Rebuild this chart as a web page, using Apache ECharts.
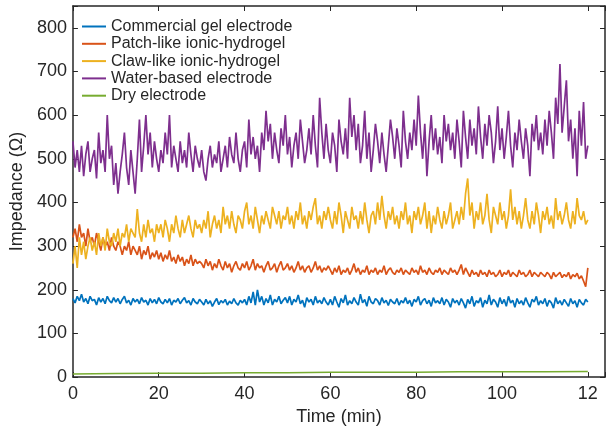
<!DOCTYPE html>
<html>
<head>
<meta charset="utf-8">
<script src="https://cdn.jsdelivr.net/npm/echarts@6/dist/echarts.min.js"></script>
<style>
  html, body { margin: 0; padding: 0; background: #fff; }
  #chart { width: 608px; height: 431px; }
</style>
</head>
<body>
<div id="chart"></div>
<script>
// 采样间隔 (min)
const step = 0.5;

const seriesNames = [
  "Commercial gel electrode",
  "Patch-like ionic-hydrogel",
  "Claw-like ionic-hydrogel",
  "Water-based electrode",
  "Dry electrode",
];

const commercialGel = [
  180, 170, 185, 175, 190, 172, 180, 168, 185, 175,
  178, 165, 182, 172, 180, 168, 185, 175, 170, 182,
  172, 180, 168, 178, 185, 170, 176, 165, 180, 172,
  178, 168, 182, 172, 176, 165, 180, 170, 178, 168,
  182, 172, 168, 178, 170, 180, 165, 176, 172, 180,
  168, 176, 182, 170, 175, 165, 180, 172, 168, 178,
  172, 165, 178, 168, 175, 162, 172, 180, 166, 175,
  170, 178, 165, 174, 168, 180, 170, 165, 176, 170,
  178, 165, 185, 170, 195, 165, 200, 172, 185, 165,
  180, 170, 188, 165, 178, 172, 185, 168, 176, 182,
  170, 185, 165, 178, 172, 188, 168, 176, 160, 182,
  172, 178, 165, 185, 170, 176, 168, 182, 172, 165,
  178, 165, 185, 172, 160, 180, 170, 188, 165, 175,
  168, 182, 172, 165, 190, 170, 178, 162, 185, 172,
  168, 180, 175, 165, 182, 170, 176, 164, 178, 172,
  168, 180, 165, 175, 170, 182, 168, 176, 162, 178,
  172, 185, 165, 175, 180, 168, 176, 162, 182, 170,
  175, 168, 182, 165, 178, 172, 160, 180, 170, 176,
  165, 180, 170, 158, 178, 168, 185, 162, 175, 170,
  182, 160, 176, 168, 188, 165, 178, 172, 160, 182,
  168, 178, 162, 185, 170, 176, 160, 180, 168, 175,
  165, 182, 170, 160, 178, 172, 185, 165, 175, 168,
  180, 162, 176, 170, 158, 182, 168, 175, 165, 178,
  170, 162, 180, 168, 175, 160, 178, 170, 165, 178,
  172,
];

const patchLike = [
  320, 340, 310, 350, 320, 330, 300, 340, 310, 320,
  300, 330, 310, 290, 320, 300, 310, 290, 320, 300,
  290, 310, 300, 280, 300, 290, 310, 280, 300, 290,
  280, 300, 270, 290, 280, 300, 270, 285, 275, 290,
  270, 285, 265, 280, 270, 290, 265, 275, 260, 280,
  265, 275, 255, 270, 260, 280, 255, 270, 260, 265,
  260, 250, 270, 255, 265, 245, 260, 250, 270, 255,
  245, 265, 250, 260, 240, 255, 265, 250, 245, 260,
  250, 265, 245, 255, 270, 245, 260, 250, 255, 240,
  255, 265, 245, 250, 260, 240, 255, 265, 245, 250,
  260, 245, 255, 240, 250, 265, 245, 255, 240, 250,
  255, 240, 250, 265, 245, 255, 240, 250, 245, 255,
  245, 235, 250, 240, 255, 235, 245, 240, 250, 235,
  245, 260, 240, 250, 235, 245, 240, 255, 235, 245,
  240, 250, 235, 245, 240, 255, 235, 245, 250, 240,
  235, 245, 240, 250, 235, 245, 240, 235, 250, 240,
  245, 235, 255, 240, 245, 235, 250, 240, 235, 245,
  240, 250, 235, 245, 240, 235, 250, 240, 245, 235,
  245, 258, 235, 250, 240, 230, 245, 235, 240, 230,
  245, 235, 240, 230, 245, 235, 240, 230, 235, 245,
  230, 240, 235, 245, 230, 240, 235, 230, 245, 235,
  240, 230, 235, 245, 230, 240, 235, 230, 240, 235,
  230, 240, 235, 225, 240, 230, 235, 240, 228, 235,
  230, 240, 225, 235, 230, 238, 225, 232, 220, 207,
  250,
];

const clawLike = [
  260, 300, 250, 320, 280, 310, 270, 300, 320, 290,
  310, 280, 330, 300, 320, 290, 340, 310, 300, 330,
  310, 340, 300, 330, 320, 350, 310, 340, 330, 320,
  385, 330, 310, 350, 320, 360, 330, 340, 310, 350,
  330, 350, 320, 360, 340, 310, 350, 330, 370, 340,
  320, 360, 330, 350, 370, 340, 320, 360, 340, 350,
  330, 360, 340, 380, 320, 350, 370, 340, 360, 330,
  390, 350, 370, 340, 380, 350, 330, 370, 360, 340,
  380, 400, 350, 370, 340, 390, 360, 330, 370, 350,
  380, 360, 340, 390, 370, 350, 380, 340, 370, 360,
  390, 350, 370, 340, 380, 360, 400, 350, 370, 340,
  380, 360, 390, 410, 350, 370, 340, 380, 360, 390,
  360, 340, 380, 350, 400, 370, 330, 380, 360, 340,
  390, 360, 370, 340, 380, 350, 400, 360, 330, 370,
  380, 350, 400, 360, 415, 370, 340, 380, 360, 390,
  350, 370, 340, 380, 360, 400, 350, 370, 330, 380,
  360, 390, 350, 370, 400, 340, 380, 330, 370, 350,
  390, 360, 340, 380, 350, 370, 400, 340, 360, 380,
  350, 390, 360, 420, 455, 370, 400, 340, 380, 360,
  400, 350, 370, 420, 360, 330, 390, 370, 350, 400,
  360, 380, 340, 370, 430, 360, 390, 350, 380, 340,
  370, 410, 360, 340, 380, 350, 400, 370, 330, 380,
  360, 390, 350, 370, 340, 410, 360, 380, 350, 370,
  400, 360, 340, 380, 350, 410, 370, 360, 380, 350,
  360,
];

const waterBased = [
  540, 480, 520, 470, 530, 460, 510, 540, 470, 500,
  520, 455, 560, 490, 520, 470, 600, 500, 530, 440,
  490, 420, 470, 510, 560, 480, 440, 520, 470, 420,
  500, 590, 470, 530, 600, 510, 560, 480, 540, 500,
  470, 520, 490, 560, 510, 600, 480, 530, 500, 470,
  540, 490, 520, 480, 560, 510, 470, 530, 500, 480,
  520, 470, 450, 500, 530, 480, 510, 490, 540, 470,
  500, 530, 480, 550, 510, 490, 560, 500, 470, 520,
  540, 480, 590, 510, 550, 500, 530, 470, 560, 520,
  610, 540, 580, 500, 560, 520, 490, 570, 530, 600,
  510, 550, 480, 530, 560, 500, 590, 540, 490, 520,
  570, 510, 600, 530, 480, 640, 560, 500, 580, 520,
  490, 560, 530, 470, 590, 540, 510, 570, 500, 640,
  550, 600, 520, 580, 490, 530, 610, 500, 560, 470,
  520, 580, 540, 490, 560, 510, 470, 530, 590, 550,
  500, 570, 530, 480, 610, 540, 500, 560, 520, 590,
  530, 645, 560, 500, 580, 460, 540, 600, 520, 570,
  510, 550, 490, 600, 540, 580, 520, 560, 500, 590,
  540, 480, 610, 550, 500, 590, 530, 570, 510, 620,
  550, 500, 580, 530, 600, 560, 490, 540, 620, 520,
  570, 500, 550, 610, 530, 480, 560, 520, 590, 540,
  500, 570, 530, 460, 580, 540, 600, 520, 560, 510,
  590, 530, 610, 560, 500, 640, 580, 717, 560, 620,
  680, 540, 590, 500, 570, 460, 610, 530, 630, 500,
  530,
];

// 干电极: 每 10 min 读一个点
const dryTime = [0, 10, 20, 30, 40, 50, 60, 70, 80, 90, 100, 110, 120];
const dryElectrode = [7, 8, 9, 9, 10, 10, 11, 11, 11, 12, 12, 12, 13];

const xTicks = [0, 20, 40, 60, 80, 100, 120];
const yTicks = [0, 100, 200, 300, 400, 500, 600, 700, 800];

const colors = ["#0072BD", "#D95319", "#EDB120", "#7E2F8E", "#77AC30"];

const toPairs = (values) => values.map((v, i) => [i * step, v]);

const axisColor = "#262626";
const font = "Liberation Sans, Arial, sans-serif";

const chart = echarts.init(document.getElementById("chart"), null, { renderer: "canvas" });

const baseX = {
  type: "value",
  min: 0,
  max: 124,
  interval: 20,
  axisLine: { show: true, onZero: false, lineStyle: { color: axisColor, width: 1.5 } },
  axisTick: { show: true, inside: true, length: 5, lineStyle: { color: axisColor, width: 1 } },
  splitLine: { show: false },
};
const baseY = {
  type: "value",
  min: 0,
  max: 850,
  interval: 100,
  axisLine: { show: true, onZero: false, lineStyle: { color: axisColor, width: 1.5 } },
  axisTick: { show: true, inside: true, length: 5, lineStyle: { color: axisColor, width: 1 } },
  splitLine: { show: false },
};

const dataList = [commercialGel, patchLike, clawLike, waterBased];

const series = dataList.map((vals, i) => ({
  name: seriesNames[i],
  type: "line",
  data: toPairs(vals),
  showSymbol: false,
  symbol: "none",
  lineStyle: { color: colors[i], width: 1.7 },
  itemStyle: { color: colors[i] },
  z: 2 + i,
}));
series.push({
  name: seriesNames[4],
  type: "line",
  data: dryTime.map((t, i) => [t, dryElectrode[i]]),
  showSymbol: false,
  symbol: "none",
  lineStyle: { color: colors[4], width: 1.5 },
  itemStyle: { color: colors[4] },
  z: 7,
});

chart.setOption({
  animation: false,
  backgroundColor: "#fff",
  textStyle: { fontFamily: font },
  grid: { left: 70, right: 2, top: 6, bottom: 53, containLabel: false },
  legend: {
    orient: "vertical",
    left: 77,
    top: 13,
    itemGap: 0.3,
    itemWidth: 24,
    itemHeight: 2,
    icon: "rect",
    data: seriesNames,
    textStyle: { fontSize: 16, color: axisColor, lineHeight: 17 },
  },
  xAxis: [
    {
      ...baseX,
      position: "bottom",
      name: "Time (min)",
      nameLocation: "middle",
      nameGap: 28,
      nameTextStyle: { fontSize: 18, color: axisColor },
      axisLabel: {
        fontSize: 18,
        color: axisColor,
        margin: 8,
        formatter: (v) => (xTicks.includes(v) ? (v === 120 ? "12" : String(v)) : ""),
      },
    },
    { ...baseX, position: "top", axisLabel: { show: false } },
  ],
  yAxis: [
    {
      ...baseY,
      position: "left",
      name: "Impedance (Ω)",
      nameLocation: "middle",
      nameGap: 39,
      nameTextStyle: { fontSize: 18, color: axisColor },
      axisLabel: {
        fontSize: 18,
        color: axisColor,
        margin: 6,
        formatter: (v) => (yTicks.includes(v) ? String(v) : ""),
      },
    },
    { ...baseY, position: "right", axisLabel: { show: false } },
  ],
  series: series,
});
</script>
</body>
</html>
